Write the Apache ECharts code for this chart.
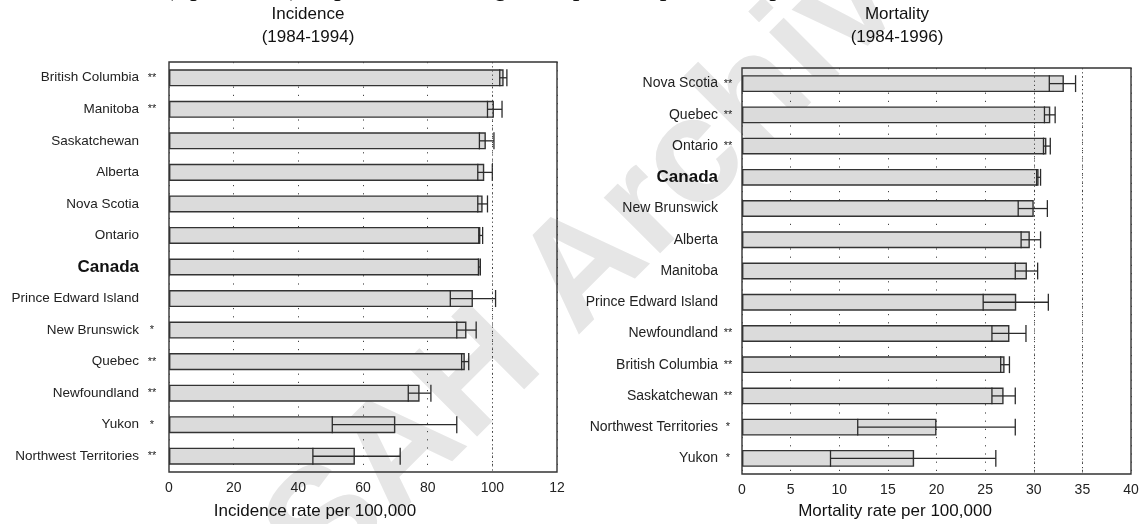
<!DOCTYPE html>
<html>
<head>
<meta charset="utf-8">
<script src="https://cdn.jsdelivr.net/npm/echarts@6/dist/echarts.min.js"></script>
<style>
  html, body { margin: 0; padding: 0; background: #fff; }
  #chart { width: 1143px; height: 524px; }
</style>
</head>
<body>
<div id="chart"></div>
<script>
// Incidence 1984-1994 (rate per 100,000, with 95% CI)
var incNames = ['British Columbia', 'Manitoba', 'Saskatchewan', 'Alberta', 'Nova Scotia', 'Ontario', 'Canada',
  'Prince Edward Island', 'New Brunswick', 'Quebec', 'Newfoundland', 'Yukon', 'Northwest Territories'];
var incStars = ['**', '**', '', '', '', '', '', '', '*', '**', '**', '*', '**'];
var incRate = [103.5, 100.5, 98, 97.5, 97, 96.3, 96, 94, 92, 91.5, 77.5, 70, 57.5];
var incLow  = [102.3, 98.5, 96, 95.5, 95.5, 95.8, 95.7, 87, 89, 90.5, 74, 50.5, 44.5];
var incHigh = [104.5, 103, 100.5, 100, 98.5, 97, 96.3, 101, 95, 92.7, 81, 89, 71.5];

// Mortality 1984-1996
var morNames = ['Nova Scotia', 'Quebec', 'Ontario', 'Canada', 'New Brunswick', 'Alberta', 'Manitoba',
  'Prince Edward Island', 'Newfoundland', 'British Columbia', 'Saskatchewan', 'Northwest Territories', 'Yukon'];
var morStars = ['**', '**', '**', '', '', '', '', '', '**', '**', '**', '*', '*'];
var morRate = [33.1, 31.7, 31.3, 30.5, 30, 29.6, 29.3, 28.2, 27.5, 27, 26.9, 20, 17.7];
var morLow  = [31.6, 31.1, 31.0, 30.3, 28.4, 28.7, 28.1, 24.8, 25.7, 26.6, 25.7, 11.9, 9.1];
var morHigh = [34.3, 32.2, 31.7, 30.7, 31.4, 30.7, 30.4, 31.5, 29.2, 27.5, 28.1, 28.1, 26.1];

var incTicks = { min: 0, max: 120, interval: 20 };
var morTicks = { min: 0, max: 40, interval: 5 };

var chart = echarts.init(document.getElementById('chart'));
var font = 'Liberation Sans, Arial, Helvetica, sans-serif';
var GAP = 0.46;

function catLabels(stars, size, starW) {
  return {
    margin: 4,
    formatter: function (v, i) {
      if (v === 'Canada') return '{bold|Canada}{star| }';
      return '{name|' + v + '}{star|' + (stars[i] || ' ') + '}';
    },
    rich: {
      name: { fontSize: size, color: '#222', fontFamily: font },
      bold: { fontSize: 17, fontWeight: 'bold', color: '#111', fontFamily: font },
      star: { width: starW, align: 'center', fontSize: 11, color: '#222', fontFamily: font }
    }
  };
}

function errItem(params, api) {
  var y = api.value(2);
  var p0 = api.coord([api.value(0), y]);
  var p1 = api.coord([api.value(1), y]);
  var h = api.size([0, 1])[1] * (1 - GAP);
  var st = { stroke: '#2b2b2b', lineWidth: 1.3 };
  return {
    type: 'group',
    children: [
      { type: 'line', shape: { x1: p0[0], y1: p0[1] - h / 2, x2: p0[0], y2: p0[1] + h / 2 }, style: st },
      { type: 'line', shape: { x1: p0[0], y1: p0[1], x2: p1[0], y2: p1[1] }, style: st },
      { type: 'line', shape: { x1: p1[0], y1: p1[1] - h / 2, x2: p1[0], y2: p1[1] + h / 2 }, style: st }
    ]
  };
}

function xAxisFor(idx, ticks, fmt) {
  return {
    type: 'value', gridIndex: idx, min: ticks.min, max: ticks.max, interval: ticks.interval,
    axisLine: { show: false }, axisTick: { show: false },
    axisLabel: { fontSize: 14, color: '#222', fontFamily: font, margin: 9, formatter: fmt },
    splitLine: { show: true, lineStyle: { type: [1.2, 7], color: '#444', width: 1 } }
  };
}

function barSeries(idx, rate) {
  return {
    type: 'bar', xAxisIndex: idx, yAxisIndex: idx, data: rate, z: 3,
    barCategoryGap: (GAP * 100) + '%',
    itemStyle: { color: '#dbdbdb', borderColor: '#333', borderWidth: 1.4 },
    silent: true
  };
}

function errSeries(idx, low, high) {
  return {
    type: 'custom', xAxisIndex: idx, yAxisIndex: idx, z: 4, silent: true,
    renderItem: errItem,
    encode: { x: [0, 1], y: 2 },
    data: low.map(function (l, i) { return [l, high[i], i]; })
  };
}

function refLines(idx, vals) {
  return {
    type: 'line', xAxisIndex: idx, yAxisIndex: idx, data: [], z: 1, silent: true,
    markLine: {
      symbol: 'none', silent: true, label: { show: false },
      lineStyle: { type: [1.2, 3], color: '#444', width: 1 },
      data: vals.map(function (v) { return { xAxis: v }; })
    }
  };
}

var option = {
  animation: false,
  grid: [
    { left: 169, right: 1143 - 557, top: 62, bottom: 524 - 472, show: true, borderColor: '#333', borderWidth: 1.4, backgroundColor: 'transparent' },
    { left: 742, right: 1143 - 1131, top: 68, bottom: 524 - 474, show: true, borderColor: '#333', borderWidth: 1.4, backgroundColor: 'transparent' }
  ],
  xAxis: [
    xAxisFor(0, incTicks, function (v) { return v === 120 ? '12' : String(v); }),
    xAxisFor(1, morTicks, function (v) { return String(v); })
  ],
  yAxis: [
    { type: 'category', gridIndex: 0, data: incNames, inverse: true, axisLine: { show: false }, axisTick: { show: false },
      axisLabel: catLabels(incStars, 13.5, 26) },
    { type: 'category', gridIndex: 1, data: morNames, inverse: true, axisLine: { show: false }, axisTick: { show: false },
      axisLabel: catLabels(morStars, 14, 20) }
  ],
  graphic: [
    { type: 'text', x: -30, y: -26, z: 0,
      style: { text: 'Statistics Canada (April 1999) http://www.hc-sc.gc.ca/hpb/lcdc/publicat/updates/breast_e.html',
        font: 'italic 27px "Liberation Serif", serif', fill: '#111', align: 'left', verticalAlign: 'top' } },
    { type: 'text', x: 600, y: 255, rotation: Math.PI * 0.25, z: -1, silent: true,
      style: { text: 'ISAH Archive', font: 'bold 150px "Liberation Sans", Arial, sans-serif', fill: '#e6e6e6',
        align: 'center', verticalAlign: 'middle' } },
    { type: 'text', x: 308, y: 14, style: { text: 'Incidence', font: '17px "Liberation Sans", Arial', fill: '#111', align: 'center', verticalAlign: 'middle' } },
    { type: 'text', x: 308, y: 37, style: { text: '(1984-1994)', font: '17px "Liberation Sans", Arial', fill: '#111', align: 'center', verticalAlign: 'middle' } },
    { type: 'text', x: 897, y: 14, style: { text: 'Mortality', font: '17px "Liberation Sans", Arial', fill: '#111', align: 'center', verticalAlign: 'middle' } },
    { type: 'text', x: 897, y: 37, style: { text: '(1984-1996)', font: '17px "Liberation Sans", Arial', fill: '#111', align: 'center', verticalAlign: 'middle' } },
    { type: 'text', x: 315, y: 511, style: { text: 'Incidence rate per 100,000', font: '17px "Liberation Sans", Arial', fill: '#111', align: 'center', verticalAlign: 'middle' } },
    { type: 'text', x: 895, y: 511, style: { text: 'Mortality rate per 100,000', font: '17px "Liberation Sans", Arial', fill: '#111', align: 'center', verticalAlign: 'middle' } }
  ],
  series: [
    refLines(0, [100]),
    barSeries(0, incRate),
    errSeries(0, incLow, incHigh),
    refLines(1, [30, 35]),
    barSeries(1, morRate),
    errSeries(1, morLow, morHigh)
  ]
};

chart.setOption(option);
</script>
</body>
</html>
